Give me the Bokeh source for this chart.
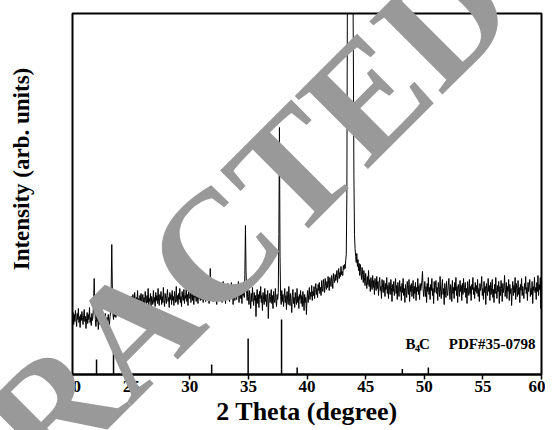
import numpy as np
from bokeh.plotting import figure
from bokeh.layouts import column
from bokeh.models import Range1d, Label, ColumnDataSource, Div
from bokeh.embed import file_html
from bokeh.resources import INLINE

# ---------------- data ----------------
two_theta_start = 20.0
two_theta_step = 0.05

# measured intensity (arb. units), 20.00 - 24.95
seg_20_25 = [55, 62, 50, 60, 53, 64, 56, 48, 61, 55,
             66, 52, 58, 47, 60, 54, 63, 57, 50, 59,
             65, 53, 58, 46, 56, 62, 51, 60, 55, 67,
             52, 57, 49, 61, 54, 59, 72, 96, 66, 55,
             48, 60, 53, 58, 45, 57, 62, 50, 56, 64,
             49, 59, 54, 44, 58, 52, 61, 55, 47, 57,
             52, 60, 54, 49, 58, 62, 88, 130, 84, 60,
             55, 63, 58, 66, 57, 64, 60, 68, 59, 65,
             61, 70, 62, 67, 60, 72, 64, 69, 63, 74,
             66, 71, 64, 75, 67, 72, 65, 76, 68, 73]
# 25.00 - 29.95
seg_25_30 = [70, 78, 66, 80, 73, 69, 82, 75, 67, 77,
             72, 84, 70, 76, 65, 79, 74, 81, 68, 76,
             80, 71, 77, 66, 83, 74, 70, 79, 72, 86,
             69, 76, 73, 81, 67, 78, 75, 70, 84, 72,
             77, 68, 82, 74, 79, 71, 86, 73, 69, 80,
             75, 83, 70, 78, 72, 87, 74, 68, 81, 76,
             71, 79, 85, 73, 77, 67, 82, 75, 80, 70,
             84, 74, 78, 69, 83, 76, 72, 88, 73, 79,
             70, 81, 75, 86, 72, 78, 68, 83, 77, 74,
             85, 71, 79, 76, 89, 73, 80, 69, 84, 78]
# 30.00 - 34.95
seg_30_35 = [76, 84, 72, 80, 88, 74, 79, 70, 85, 77,
             82, 73, 87, 78, 71, 83, 76, 90, 74, 80,
             75, 86, 79, 72, 84, 77, 91, 73, 81, 76,
             88, 74, 80, 71, 85, 106, 82, 75, 89, 78,
             73, 84, 79, 92, 76, 81, 70, 87, 78, 83,
             77, 90, 74, 82, 86, 72, 80, 93, 76, 84,
             79, 71, 88, 81, 75, 91, 78, 84, 73, 86,
             80, 92, 76, 83, 70, 87, 79, 74, 89, 81,
             75, 85, 78, 93, 72, 82, 88, 76, 80, 71,
             86, 79, 83, 77, 100, 149, 104, 81, 74, 86]
# 35.00 - 39.95
seg_35_40 = [78, 70, 84, 75, 66, 81, 73, 87, 76, 69,
             82, 74, 79, 58, 77, 85, 71, 80, 67, 83,
             76, 88, 72, 79, 64, 82, 75, 70, 86, 73,
             80, 68, 77, 84, 56, 74, 81, 72, 78, 85,
             71, 79, 66, 83, 76, 72, 86, 74, 68, 80,
             75, 82, 140, 247, 118, 78, 70, 84, 73, 80,
             68, 77, 86, 72, 79, 65, 83, 74, 70, 88,
             76, 69, 81, 73, 62, 79, 85, 71, 77, 67,
             82, 74, 70, 86, 72, 78, 66, 80, 75, 84,
             71, 79, 68, 83, 74, 64, 80, 72, 77, 60]
# 40.00 - 44.95 (main B4C reflection near 43.6 runs off the top)
seg_40_45 = [76, 84, 72, 80, 87, 75, 82, 78, 89, 74,
             83, 79, 88, 76, 85, 91, 80, 86, 77, 90,
             84, 92, 81, 87, 79, 94, 86, 83, 95, 88,
             82, 96, 89, 85, 93, 87, 98, 90, 84, 97,
             91, 88, 99, 93, 86, 101, 95, 92, 100, 94,
             97, 104, 92, 99, 106, 96, 102, 98, 108, 100,
             103, 99, 109, 105, 110, 106, 114, 120, 180, 400,
             800, 1000, 1050, 1000, 900, 750, 600, 480, 420, 330,
             200, 140, 126, 118, 112, 121, 108, 115, 104, 111,
             99, 110, 103, 95, 107, 100, 92, 104, 97, 89]
# 45.00 - 49.95
seg_45_50 = [101, 93, 86, 98, 90, 104, 88, 95, 83, 97,
             91, 85, 99, 87, 94, 80, 96, 89, 84, 98,
             86, 93, 79, 91, 97, 84, 88, 76, 95, 87,
             82, 94, 88, 78, 91, 85, 97, 81, 89, 76,
             92, 84, 80, 95, 87, 73, 90, 83, 93, 79,
             86, 96, 81, 89, 75, 92, 84, 78, 94, 83,
             88, 74, 91, 82, 96, 79, 86, 72, 90, 84,
             77, 93, 85, 80, 95, 73, 89, 83, 91, 78,
             86, 94, 76, 88, 81, 92, 74, 87, 83, 96,
             80, 89, 75, 91, 84, 88, 94, 103, 86, 78]
# 50.00 - 54.95
seg_50_55 = [85, 93, 78, 88, 72, 91, 83, 97, 80, 87,
             75, 90, 84, 96, 79, 86, 71, 93, 82, 89,
             94, 81, 87, 74, 92, 85, 78, 98, 83, 76,
             88, 95, 80, 86, 70, 91, 84, 77, 93, 82,
             79, 89, 96, 83, 75, 90, 86, 73, 94, 81,
             87, 76, 92, 84, 97, 79, 88, 72, 90, 85,
             78, 94, 83, 89, 74, 91, 80, 96, 82, 87,
             92, 77, 86, 71, 93, 84, 79, 95, 81, 88,
             74, 90, 85, 97, 80, 87, 76, 92, 83, 89,
             81, 95, 78, 86, 73, 91, 84, 88, 98, 79]
# 55.00 - 60.00
seg_55_60 = [86, 75, 93, 82, 88, 70, 91, 84, 79, 96,
             83, 89, 74, 92, 80, 87, 95, 77, 85, 72,
             90, 81, 97, 84, 76, 89, 83, 93, 71, 88,
             79, 94, 86, 73, 91, 82, 87, 99, 78, 85,
             92, 76, 88, 83, 95, 74, 90, 81, 86, 69,
             84, 93, 79, 89, 82, 97, 75, 91, 85, 78,
             94, 80, 87, 72, 90, 84, 96, 79, 88, 83,
             76, 91, 85, 98, 81, 87, 74, 92, 83, 89,
             95, 78, 86, 80, 93, 71, 88, 84, 97, 82,
             87, 75, 92, 83, 99, 79, 90, 85, 97, 66,
             101]

# reference pattern B4C PDF#35-0798 (stick positions and heights)
pdf_two_theta = [22.05, 23.5, 31.87, 34.98, 37.83, 39.16, 48.13, 50.35]
pdf_height = [15, 29, 10, 36, 55, 7, 5.5, 7]

x_ticks = [20, 25, 30, 35, 40, 45, 50, 55, 60]

# ---------------- build ----------------
intensity = (seg_20_25 + seg_25_30 + seg_30_35 + seg_35_40 +
             seg_40_45 + seg_45_50 + seg_50_55 + seg_55_60)
two_theta = [round(two_theta_start + i * two_theta_step, 2) for i in range(len(intensity))]

src = ColumnDataSource(dict(x=two_theta, y=intensity))
sticks = ColumnDataSource(dict(x=pdf_two_theta, y0=[0] * len(pdf_height), y1=pdf_height))

SERIF = "Liberation Serif"
W, H = 545, 430

p = figure(width=W, height=H,
           x_range=Range1d(20, 60), y_range=Range1d(0, 361),
           output_backend="svg", toolbar_location=None,
           min_border_left=72, min_border_right=4, min_border_top=13, min_border_bottom=56,
           background_fill_color="white", border_fill_color="white")

p.grid.visible = False
p.yaxis.visible = False
p.outline_line_color = "black"
p.outline_line_width = 2

p.line("x", "y", source=src, line_color="black", line_width=1)
p.segment(x0="x", y0="y0", x1="x", y1="y1", source=sticks, line_color="black", line_width=1.5)

xa = p.xaxis[0]
xa.ticker = x_ticks
xa.ticker.num_minor_ticks = 2
xa.axis_line_width = 2
xa.major_tick_in = 0
xa.major_tick_out = 5
xa.minor_tick_in = 0
xa.minor_tick_out = 3
xa.major_tick_line_width = 1.5
xa.minor_tick_line_width = 1.5
xa.major_label_text_font = SERIF
xa.major_label_text_font_style = "bold"
xa.major_label_text_font_size = "17px"
xa.major_label_text_color = "black"
xa.major_label_standoff = 1
xa.axis_label = "2 Theta (degree)"
xa.axis_label_text_font = SERIF
xa.axis_label_text_font_style = "bold"
xa.axis_label_text_font_size = "26px"
xa.axis_label_text_color = "black"
xa.axis_label_standoff = 2

# phase label
lab_kw = dict(text_font=SERIF, text_font_style="bold", text_color="black",
              text_baseline="alphabetic", text_align="left")
p.add_layout(Label(x=48.40, y=31, text="B", text_font_size="15px", **lab_kw))
p.add_layout(Label(x=49.21, y=26, text="4", text_font_size="10px", **lab_kw))
p.add_layout(Label(x=49.55, y=31, text="C", text_font_size="15px", **lab_kw))
p.add_layout(Label(x=52.09, y=31, text="PDF#35-0798", text_font_size="15px", **lab_kw))

# overlay laid over the whole chart: y-axis title and the "RETRACTED" watermark
common = ("position:absolute;white-space:nowrap;line-height:1;"
          "font-family:'Liberation Serif';font-weight:bold;")
overlay_html = (
    f'<div style="position:relative;width:{W}px;height:{H}px;overflow:hidden;pointer-events:none;">'
    f'<div style="{common}left:21px;top:169px;font-size:23px;color:black;'
    f'transform:translate(-50%,-50%) rotate(-90deg);">Intensity (arb. units)</div>'
    f'<div style="{common}left:133px;top:329px;font-size:158px;color:#999999;'
    f'transform:translate(-50%,-50%) rotate(-45deg);">RETRACTED</div>'
    '</div>'
)
overlay = Div(text=overlay_html, width=W, height=H, margin=(-H, 0, 0, 0))

layout = column(p, overlay, spacing=0)
open("out.html", "w").write(file_html(layout, INLINE))
